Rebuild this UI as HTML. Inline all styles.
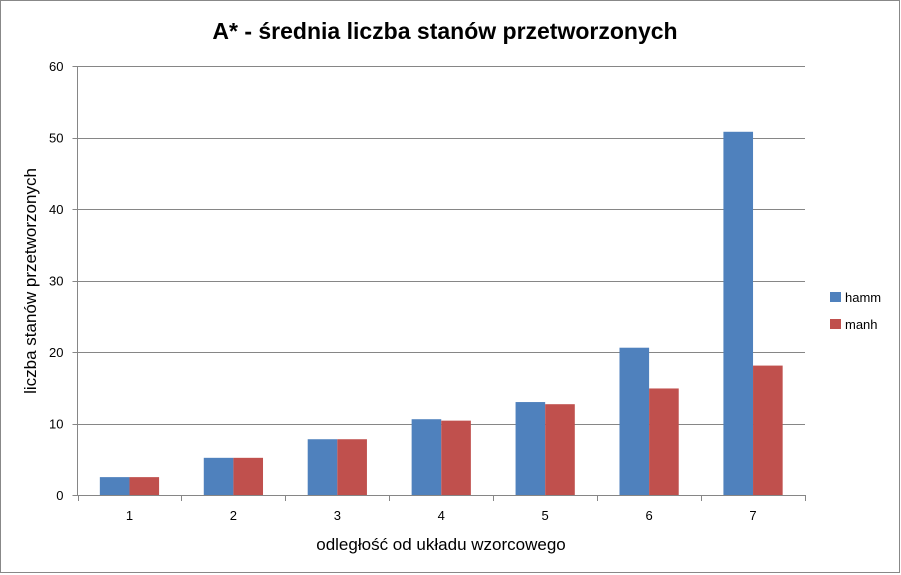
<!DOCTYPE html>
<html><head><meta charset="utf-8"><style>
html,body{margin:0;padding:0;background:#fff;}
svg{display:block;font-family:"Liberation Sans",sans-serif;}
</style></head><body>
<svg id="chart" width="901" height="575">
<rect x="0.5" y="0.5" width="899" height="572" fill="#fff" stroke="#888"/>
<text x="445" y="39" text-anchor="middle" font-size="23" font-weight="bold" fill="#000">A* - średnia liczba stanów przetworzonych</text>
<text transform="translate(36,281) rotate(-90)" text-anchor="middle" font-size="17" fill="#000">liczba stanów przetworzonych</text>
<text x="441" y="550" text-anchor="middle" font-size="17" fill="#000">odległość od układu wzorcowego</text>
<g id="grid"></g><g id="bars"></g><g id="axes"></g>
<rect x="830" y="292" width="11" height="10" fill="#4f81bd"/>
<text x="845" y="302" font-size="13">hamm</text>
<rect x="830" y="319" width="11" height="10" fill="#c0504d"/>
<text x="845" y="329" font-size="13">manh</text>
</svg>
<script>
const categories=["1","2","3","4","5","6","7"];
const hamm=[2.5,5.2,7.8,10.6,13.0,20.6,50.8];
const manh=[2.5,5.2,7.8,10.4,12.7,14.9,18.1];
const yTicks=[0,10,20,30,40,50,60];
const NS="http://www.w3.org/2000/svg";
const X0=77.5,X1=805,Y0=495,Y1=66,YMAX=60;
const bw=(X1-X0)/categories.length;
function y(v){return Y0-(v/YMAX)*(Y0-Y1);}
function x(i){return X0+i*bw;}
function mk(t,a,p){const e=document.createElementNS(NS,t);for(const k in a)e.setAttribute(k,a[k]);p.appendChild(e);return e;}
const grid=document.getElementById('grid'),bars=document.getElementById('bars'),axes=document.getElementById('axes');
yTicks.forEach(v=>{
  if(v>0){const g=mk('line',{x1:X0,x2:X1,y1:Math.round(y(v))+0.5,y2:Math.round(y(v))+0.5,stroke:'#868686','stroke-width':1},grid);
  
  }
  const t=mk('line',{x1:X0-5,x2:X0,y1:Math.round(y(v))+0.5,y2:Math.round(y(v))+0.5,stroke:'#868686'},axes);
  
  
  const l=mk('text',{x:X0-14,y:y(v)+5,'text-anchor':'end','font-size':13},axes);l.textContent=v;
  
  
});
const w=bw*0.285;
categories.forEach((c,i)=>{
  const cx=x(i)+bw/2;
  const b1=mk('rect',{x:cx-w,y:y(hamm[i]),width:w,height:Y0-y(hamm[i]),fill:'#4f81bd'},bars);
  
  
  const b2=mk('rect',{x:cx,y:y(manh[i]),width:w,height:Y0-y(manh[i]),fill:'#c0504d'},bars);
  
  
  const l=mk('text',{x:cx,y:Y0+25,'text-anchor':'middle','font-size':13},axes);l.textContent=c;
  
  
});
for(let i=0;i<=categories.length;i++){
  const t=mk('line',{x1:Math.round(x(i))+0.5,x2:Math.round(x(i))+0.5,y1:Y0,y2:Y0+6,stroke:'#868686'},axes);
  
  
}
const ya=mk('line',{x1:X0,x2:X0,y1:Y1,y2:Y0,stroke:'#868686'},axes);


const xa=mk('line',{x1:X0,x2:X1,y1:Y0+0.5,y2:Y0+0.5,stroke:'#868686'},axes);


</script>
</body></html>
